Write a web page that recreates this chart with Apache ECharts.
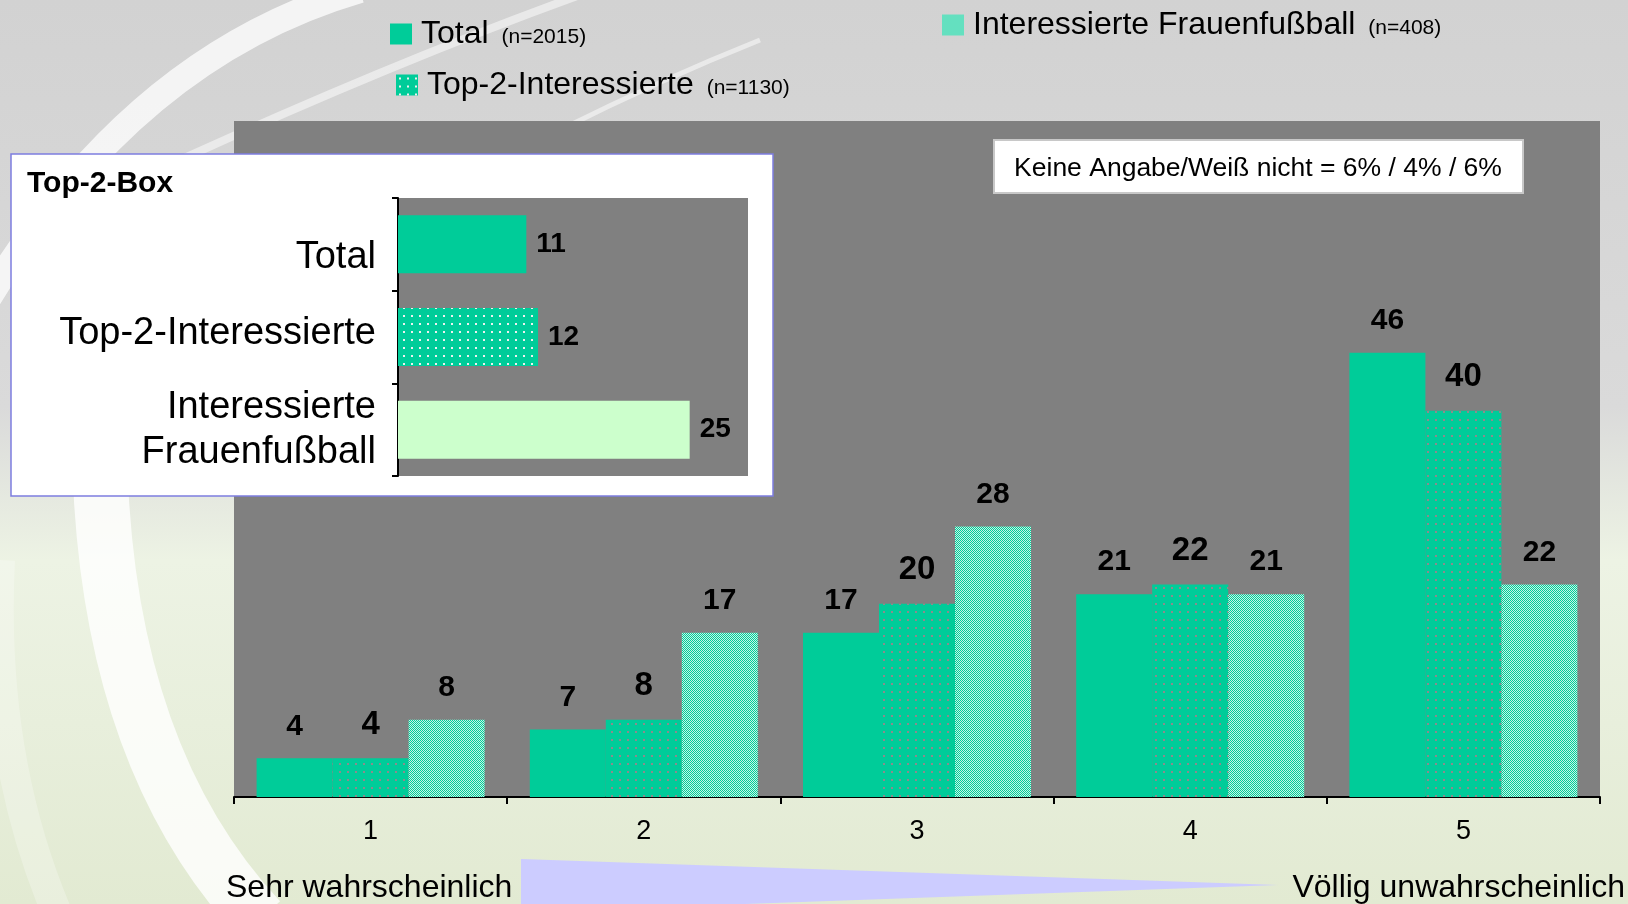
<!DOCTYPE html>
<html>
<head>
<meta charset="utf-8">
<script src="https://cdn.jsdelivr.net/npm/echarts@6/dist/echarts.min.js"></script>
<style>
  html, body { margin: 0; padding: 0; }
  #main { width: 1628px; height: 904px; }
</style>
</head>
<body>
<div id="main"></div>
<script>
// Daten
const categories = ['1', '2', '3', '4', '5']
const seriesNames = ['Total', 'Top-2-Interessierte', 'Interessierte Frauenfußball']
const sampleSizes = ['(n=2015)', '(n=1130)', '(n=408)']
const totalValues = [4, 7, 17, 21, 46]
const top2Values = [4, 8, 20, 22, 40]
const frauenValues = [8, 17, 28, 21, 22]
// Top-2-Box Einschub
const boxCategories = ['Total', 'Top-2-Interessierte', 'Interessierte\nFrauenfußball']
const boxValues = [11, 12, 25]

const FONT = '"Liberation Sans", Arial, sans-serif'
const GREEN = '#00CC99'

// Punktmuster
const makeDots = (bg, dot) => {
  const c = document.createElement('canvas')
  c.width = 8
  c.height = 8
  const ctx = c.getContext('2d')
  ctx.fillStyle = bg
  ctx.fillRect(0, 0, 8, 8)
  ctx.fillStyle = dot
  ctx.fillRect(3, 3, 2, 2)
  return { image: c, repeat: 'repeat' }
}
// feines Schachbrett
const makeChecker = (a, b) => {
  const c = document.createElement('canvas')
  c.width = 2
  c.height = 2
  const ctx = c.getContext('2d')
  ctx.fillStyle = a
  ctx.fillRect(0, 0, 2, 2)
  ctx.fillStyle = b
  ctx.fillRect(1, 0, 1, 1)
  ctx.fillRect(0, 1, 1, 1)
  return { image: c, repeat: 'repeat' }
}

const dotsGray = makeDots(GREEN, '#8c8c8c')
const dotsWhite = makeDots(GREEN, '#f0f0f0')
const checker = makeChecker(GREEN, '#c8f4e6')

const myChart = echarts.init(document.getElementById('main'))

const legendBase = (name, left, top, color, small) => ({
  data: [{ name: name, itemStyle: { color: color } }],
  left: left,
  top: top,
  padding: 0,
  icon: 'rect',
  itemWidth: 22,
  itemHeight: 21,
  selectedMode: false,
  formatter: (n) => n + ' {s|' + small + '}',
  textStyle: {
    fontFamily: FONT,
    fontSize: 32,
    lineHeight: 34,
    color: '#000',
    padding: [0, 0, 0, 4],
    rich: {
      s: { fontFamily: FONT, fontSize: 21, color: '#000', padding: [6, 0, 0, 4] }
    }
  }
})

const barLabel = (size) => ({
  show: true,
  position: 'top',
  distance: 17,
  color: '#000',
  fontFamily: FONT,
  fontWeight: 'bold',
  fontSize: size
})

const option = {
  animation: false,
  legend: [
    legendBase(seriesNames[0], 390, 17, GREEN, sampleSizes[0]),
    legendBase(seriesNames[1], 396, 68, dotsWhite, sampleSizes[1]),
    legendBase(seriesNames[2], 942, 8, checker, sampleSizes[2])
  ],
  grid: [
    { left: 234, right: 28, top: 121, bottom: 107, show: true, backgroundColor: '#808080', borderWidth: 0 },
    { left: 398, top: 198, width: 350, height: 278 }
  ],
  xAxis: [
    {
      type: 'category',
      gridIndex: 0,
      data: categories,
      axisLine: { lineStyle: { color: '#000', width: 2 } },
      axisTick: { show: true, alignWithLabel: false, length: 7, lineStyle: { color: '#000', width: 2 } },
      axisLabel: { color: '#000', fontFamily: FONT, fontSize: 27, margin: 21 }
    },
    { type: 'value', gridIndex: 1, min: 0, max: 30, show: false }
  ],
  yAxis: [
    { type: 'value', gridIndex: 0, min: 0, max: 70, show: false },
    {
      type: 'category',
      gridIndex: 1,
      inverse: true,
      z: 10,
      data: boxCategories,
      axisLine: { lineStyle: { color: '#000', width: 2 } },
      axisTick: { show: true, alignWithLabel: false, length: 6, lineStyle: { color: '#000', width: 2 } },
      axisLabel: {
        color: '#000',
        fontFamily: FONT,
        fontSize: 38,
        lineHeight: 45,
        margin: 22,
        align: 'right',
        // Excel setzt die Beschriftungen leicht versetzt
        formatter: (v, i) => ['{a|', '{b|', '{c|'][i] + v.replace('\n', '}\n{c|') + '}',
        rich: {
          a: { fontFamily: FONT, fontSize: 38, lineHeight: 45, color: '#000', padding: [26, 0, 0, 0] },
          b: { fontFamily: FONT, fontSize: 38, lineHeight: 45, color: '#000', padding: [0, 0, 6, 0] },
          c: { fontFamily: FONT, fontSize: 38, lineHeight: 45, color: '#000' }
        }
      }
    }
  ],
  series: [
    {
      name: seriesNames[0],
      type: 'bar',
      barWidth: 76,
      barGap: '0%',
      itemStyle: { color: GREEN },
      label: barLabel(30),
      data: totalValues
    },
    {
      name: seriesNames[1],
      type: 'bar',
      barWidth: 76,
      barGap: '0%',
      itemStyle: { color: dotsGray },
      label: barLabel(33),
      data: top2Values
    },
    {
      name: seriesNames[2],
      type: 'bar',
      barWidth: 76,
      barGap: '0%',
      itemStyle: { color: checker },
      label: barLabel(30),
      data: frauenValues
    },
    {
      name: 'Top-2-Box',
      type: 'bar',
      xAxisIndex: 1,
      yAxisIndex: 1,
      z: 10,
      barWidth: 58,
      label: {
        show: true,
        position: 'right',
        distance: 10,
        color: '#000',
        fontFamily: FONT,
        fontWeight: 'bold',
        fontSize: 28
      },
      data: [
        { value: boxValues[0], itemStyle: { color: GREEN } },
        { value: boxValues[1], itemStyle: { color: dotsWhite } },
        { value: boxValues[2], itemStyle: { color: '#CCFFCC' } }
      ]
    }
  ],
  graphic: [
    // Hintergrund
    {
      type: 'rect',
      z: -10,
      shape: { x: 0, y: 0, width: 1628, height: 904 },
      style: {
        fill: new echarts.graphic.LinearGradient(0, 0, 0, 1, [
          { offset: 0, color: '#d2d2d2' },
          { offset: 0.45, color: '#dadada' },
          { offset: 0.62, color: '#edf3e4' },
          { offset: 0.8, color: '#e8efdc' },
          { offset: 1, color: '#e2ead2' }
        ])
      }
    },
    // helle Boegen
    {
      type: 'bezierCurve',
      z: -9,
      shape: { x1: 360, y1: -10, x2: -30, y2: 330, cpx1: 120, cpy1: 60 },
      style: { stroke: 'rgba(255,255,255,0.75)', lineWidth: 26, fill: null }
    },
    {
      type: 'bezierCurve',
      z: -9,
      shape: { x1: 580, y1: -5, x2: 180, y2: 160, cpx1: 400, cpy1: 60 },
      style: { stroke: 'rgba(255,255,255,0.5)', lineWidth: 8, fill: null }
    },
    {
      type: 'bezierCurve',
      z: -9,
      shape: { x1: 760, y1: 40, x2: 560, y2: 130, cpx1: 660, cpy1: 80 },
      style: { stroke: 'rgba(255,255,255,0.5)', lineWidth: 5, fill: null }
    },
    {
      type: 'bezierCurve',
      z: -9,
      shape: { x1: 100, y1: 470, x2: 260, y2: 920, cpx1: 110, cpy1: 760 },
      style: { stroke: 'rgba(255,255,255,0.8)', lineWidth: 55, fill: null }
    },
    {
      type: 'bezierCurve',
      z: -9,
      shape: { x1: 0, y1: 560, x2: 60, y2: 920, cpx1: -10, cpy1: 760 },
      style: { stroke: 'rgba(255,255,255,0.25)', lineWidth: 30, fill: null }
    },
    // Keine Angabe Box
    {
      type: 'group',
      z: 5,
      children: [
        {
          type: 'rect',
          z: 5,
          shape: { x: 994, y: 140, width: 529, height: 53 },
          style: { fill: '#fff', stroke: '#c8c8c8', lineWidth: 2 }
        },
        {
          type: 'text',
          z: 6,
          x: 1258,
          y: 169,
          style: {
            text: 'Keine Angabe/Weiß nicht = 6% / 4% / 6%',
            font: '26.5px ' + FONT,
            fill: '#000',
            align: 'center',
            verticalAlign: 'middle'
          }
        }
      ]
    },
    // Top-2-Box Einschub
    {
      type: 'rect',
      z: 5,
      shape: { x: 11, y: 154, width: 762, height: 342 },
      style: { fill: '#fff', stroke: '#7d7de0', lineWidth: 1.5 }
    },
    {
      type: 'rect',
      z: 6,
      shape: { x: 398, y: 198, width: 350, height: 278 },
      style: { fill: '#808080' }
    },
    {
      type: 'text',
      z: 6,
      x: 27,
      y: 184,
      style: {
        text: 'Top-2-Box',
        font: 'bold 30px ' + FONT,
        fill: '#000',
        verticalAlign: 'middle'
      }
    },
    // Skala unten
    {
      type: 'polygon',
      z: 1,
      shape: { points: [[521, 859], [1278, 885], [521, 912]] },
      style: { fill: '#ccccff' }
    },
    {
      type: 'text',
      z: 2,
      x: 226,
      y: 888,
      style: { text: 'Sehr wahrscheinlich', font: '32px ' + FONT, fill: '#000', verticalAlign: 'middle' }
    },
    {
      type: 'text',
      z: 2,
      x: 1625,
      y: 888,
      style: { text: 'Völlig unwahrscheinlich', font: '32px ' + FONT, fill: '#000', align: 'right', verticalAlign: 'middle' }
    }
  ]
}

option && myChart.setOption(option)
</script>
</body>
</html>
